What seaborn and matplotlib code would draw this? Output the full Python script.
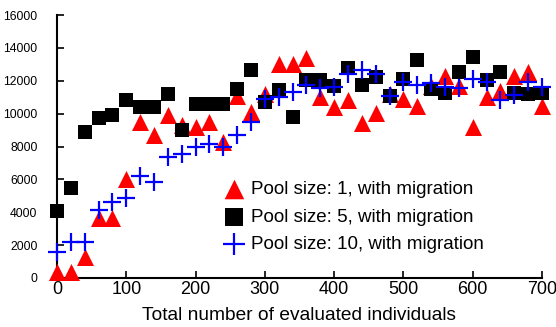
import matplotlib
matplotlib.use("Agg")
import matplotlib.pyplot as plt
import seaborn as sns
import pandas as pd

# evaluated individuals (x positions of the samples)
evaluated = [0, 20, 40, 60, 80, 100, 120, 140, 160, 180, 200, 220, 240, 260, 280, 300,
             320, 340, 360, 380, 400, 420, 440, 460, 480, 500, 520, 540, 560, 580, 600,
             620, 640, 660, 680, 700]

pool1 = [380, 380, 1300, 3650, 3650, 6050, 9500, 8700, 9900, 9300, 9200, 9500, 8250, 11100,
         10100, 11200, 13000, 13000, 13400, 11000, 10400, 10800, 9450, 10050, 11200, 10900,
         10450, 11700, 12300, 11700, 9200, 11000, 11400, 12300, 12550, 10450]

pool5 = [4070, 5500, 8880, 9710, 9900, 10820, 10410, 10410, 11200, 9000, 10580, 10580, 10580,
         11490, 12650, 10700, 11430, 9790, 12040, 12040, 11670, 12770, 11730, 12220, 11060,
         12100, 13250, 11500, 11260, 12560, 13450, 12040, 12560, 11260, 11180, 11260]

pool10 = [1600, 2200, 2200, 4130, 4620, 4840, 6200, 5830, 7370, 7530, 8000, 8130, 8000, 8720,
          9470, 10920, 11040, 11300, 11730, 11530, 11630, 12440, 12640, 12400, 11060, 11930,
          11730, 11850, 11630, 11530, 12080, 11930, 10820, 11120, 11930, 11630]

labels = ["Pool size: 1, with migration",
          "Pool size: 5, with migration",
          "Pool size: 10, with migration"]

sns.set_style("white")
plt.rcParams['font.family'] = ['Liberation Sans', 'DejaVu Sans']
plt.rcParams['text.color'] = 'black'
plt.rcParams['axes.labelcolor'] = 'black'
plt.rcParams['xtick.color'] = 'black'
plt.rcParams['ytick.color'] = 'black'

fig = plt.figure(figsize=(5.56, 3.27), dpi=100)
ax = fig.add_axes([57 / 556, 49 / 327, 485 / 556, 263 / 327])

df = pd.DataFrame({'x': evaluated, 'p1': pool1, 'p5': pool5, 'p10': pool10})

sns.scatterplot(data=df, x='x', y='p1', ax=ax, marker='^', color='#ff0000', s=150,
                linewidth=0, label=labels[0], clip_on=False, zorder=3)
sns.scatterplot(data=df, x='x', y='p5', ax=ax, marker='s', color='black', s=115,
                linewidth=0, label=labels[1], clip_on=False, zorder=4)
sns.scatterplot(data=df, x='x', y='p10', ax=ax, marker='+', color='#0000ff', s=180,
                linewidth=1.6, label=labels[2], clip_on=False, zorder=5)

ax.set_xlim(0, 700)
ax.set_ylim(0, 16000)
ax.set_xticks(range(0, 701, 100))
ax.set_yticks(range(0, 16001, 2000))
ax.tick_params(axis='x', bottom=True, direction='in', length=5, width=1.2, labelsize=13,
               pad=2)
ax.tick_params(axis='y', left=True, direction='in', length=5, width=1.2, labelsize=8.8,
               pad=14)
ax.set_xlabel('Total number of evaluated individuals', fontsize=13.8, labelpad=7)
ax.set_ylabel('')

for side in ['top', 'right']:
    ax.spines[side].set_visible(False)
for side in ['left', 'bottom']:
    ax.spines[side].set_color('black')
    ax.spines[side].set_linewidth(1.5)

ax.legend(loc='center left', bbox_to_anchor=(0.315, 0.232), frameon=False, fontsize=13.5,
          handletextpad=0.1, labelspacing=0.56, borderpad=0, handlelength=1.6,
          markerscale=1.15)

fig.savefig('out.png', dpi=100)
